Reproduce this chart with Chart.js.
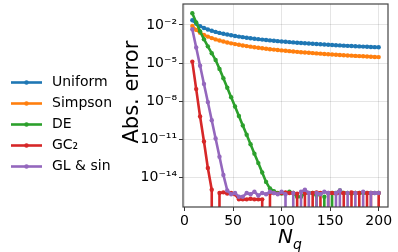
<!DOCTYPE html>
<html><head><meta charset="utf-8">
<script src="https://cdn.jsdelivr.net/npm/chart.js@4.4.1/dist/chart.umd.min.js"></script>
<style>html,body{margin:0;padding:0;background:#fff}#wrap{width:398px;height:252px}</style>
</head><body><div id="wrap"><canvas id="c" width="398" height="252"></canvas></div>
<script>
// Number of quadrature points
const Nq = [8,12,16,20,24,28,32,36,40,44,48,52,56,60,64,68,72,76,80,84,88,92,96,100,104,108,112,116,120,124,128,132,136,140,144,148,152,156,160,164,168,172,176,180,184,188,192,196,200];
// absolute errors (0 = exact, drawn as drop to -inf)
const uniform = [2.34e-2,1.26e-2,8.17e-3,5.82e-3,4.42e-3,3.49e-3,2.85e-3,2.38e-3,2.03e-3,1.76e-3,1.54e-3,1.36e-3,1.22e-3,1.10e-3,9.93e-4,9.06e-4,8.32e-4,7.66e-4,7.08e-4,6.58e-4,6.12e-4,5.73e-4,5.37e-4,5.05e-4,4.75e-4,4.49e-4,4.25e-4,4.03e-4,3.82e-4,3.64e-4,3.47e-4,3.30e-4,3.16e-4,3.03e-4,2.90e-4,2.78e-4,2.67e-4,2.56e-4,2.47e-4,2.38e-4,2.29e-4,2.21e-4,2.14e-4,2.07e-4,2.00e-4,1.93e-4,1.87e-4,1.81e-4,1.76e-4];
const simpson = [8.32e-3,4.09e-3,2.47e-3,1.67e-3,1.22e-3,9.29e-4,7.34e-4,5.98e-4,4.98e-4,4.21e-4,3.61e-4,3.14e-4,2.76e-4,2.45e-4,2.19e-4,1.97e-4,1.78e-4,1.62e-4,1.48e-4,1.36e-4,1.25e-4,1.16e-4,1.07e-4,1.00e-4,9.35e-5,8.75e-5,8.20e-5,7.73e-5,7.28e-5,6.87e-5,6.50e-5,6.15e-5,5.85e-5,5.56e-5,5.28e-5,5.04e-5,4.81e-5,4.59e-5,4.40e-5,4.21e-5,4.04e-5,3.87e-5,3.72e-5,3.58e-5,3.44e-5,3.32e-5,3.20e-5,3.08e-5,2.98e-5];
const de = [8.32e-2,1.58e-2,3.16e-3,7.59e-4,2.09e-4,6.03e-5,1.78e-5,3.55e-6,6.46e-7,1.17e-7,2.14e-8,3.89e-9,7.08e-10,1.29e-10,2.34e-11,4.27e-12,7.76e-13,1.41e-13,2.57e-14,4.68e-15,1.41e-15,8.91e-16,6.31e-16,5.62e-16,6.31e-16,7.94e-16,6.31e-16,3.16e-16,3.16e-16,6.31e-16,6.31e-16,6.31e-16,3.98e-16,0,3.16e-16,0,6.31e-16,6.31e-16,1.0e-15,6.31e-16,6.31e-16,5.62e-16,6.31e-16,6.31e-16,6.31e-16,6.31e-16,6.31e-16,6.31e-16,6.31e-16];
const gc2 = [1.32e-5,9.12e-8,6.46e-10,7.08e-12,5.75e-14,1.15e-15,0,6.31e-16,7.08e-16,5.62e-16,6.31e-16,5.01e-16,2.0e-16,2.0e-16,2.0e-16,2.24e-16,2.0e-16,2.0e-16,2.0e-16,0,6.31e-16,6.31e-16,5.62e-16,6.31e-16,7.08e-16,6.31e-16,6.31e-16,5.62e-16,0,6.31e-16,0,6.31e-16,7.08e-16,6.31e-16,0,6.31e-16,6.31e-16,5.62e-16,6.31e-16,6.31e-16,0,7.08e-16,6.31e-16,6.31e-16,0,6.31e-16,6.31e-16,0,6.31e-16];
const glsin = [4.57e-3,1.70e-4,6.31e-6,2.34e-7,8.71e-9,3.24e-10,1.20e-11,4.47e-13,1.66e-14,1.0e-15,5.01e-16,6.31e-16,3.16e-16,3.16e-16,6.31e-16,5.01e-16,7.94e-16,3.98e-16,6.31e-16,5.01e-16,7.94e-16,6.31e-16,5.01e-16,7.94e-16,5.01e-16,0,6.31e-16,0,7.94e-16,1.12e-15,6.31e-16,0,6.31e-16,5.01e-16,7.94e-16,6.31e-16,0,6.31e-16,1.0e-15,0,6.31e-16,0,6.31e-16,0,7.94e-16,0,6.31e-16,6.31e-16,6.31e-16];
const seriesNames = ['Uniform','Simpson','DE','GC\u2082','GL & sin'];
const seriesValues = [uniform, simpson, de, gc2, glsin];
const colors = ['#1f77b4','#ff7f0e','#2ca02c','#d62728','#9467bd'];
const yTickValues = [1e-14,1e-11,1e-8,1e-5,1e-2];
const yTickLabels = ['10\u207B\u00B9\u2074','10\u207B\u00B9\u00B9','10\u207B\u2078','10\u207B\u2075','10\u207B\u00B2'];
const xTickValues = [0,50,100,150,200];

const ZERO = 1e-300; // log(0) -> far below the axis
const datasets = seriesNames.map((name,k)=>({
  label: name,
  data: Nq.map((n,i)=>({x:n, y: seriesValues[k][i] > 0 ? seriesValues[k][i] : ZERO})),
  borderColor: colors[k], backgroundColor: colors[k],
  pointBackgroundColor: colors[k], pointBorderWidth: 0, pointRadius: 2.2,
  borderWidth: 2.6, tension: 0, order: 10 - k
}));

const frameAndLegend = {
  id: 'frameAndLegend',
  afterDraw(chart) {
    const ctx = chart.ctx, a = chart.chartArea;
    ctx.save();
    ctx.strokeStyle = '#444'; ctx.lineWidth = 1.2;
    ctx.strokeRect(a.left, a.top, a.right - a.left, a.bottom - a.top);
    const lg = chart.legend;
    lg.legendHitBoxes.forEach((hb, i) => {
      const item = lg.legendItems[i];
      const c = colors[item.datasetIndex];
      const cy = hb.top + hb.height / 2;
      ctx.strokeStyle = c; ctx.lineWidth = 2.6;
      ctx.beginPath(); ctx.moveTo(hb.left, cy); ctx.lineTo(hb.left + 31, cy); ctx.stroke();
      ctx.fillStyle = c; ctx.beginPath(); ctx.arc(hb.left + 15.5, cy, 2.2, 0, Math.PI*2); ctx.fill();
    });
    ctx.font = 'italic 20px "DejaVu Sans"';
    const wN = ctx.measureText('N').width;
    ctx.fillStyle = '#000'; ctx.textBaseline = 'alphabetic';
    ctx.font = 'italic 14px "DejaVu Sans"';
    ctx.fillText('q', (a.left + a.right) / 2 + wN / 2, 249);
    ctx.restore();
  }
};

new Chart(document.getElementById('c'), {
  type: 'line',
  data: { datasets },
  options: {
    responsive: false, animation: false, devicePixelRatio: 1,
    layout: { padding: { left: 4, right: 10, top: 3, bottom: 6 } },
    plugins: {
      tooltip: { enabled: false },
      legend: {
        position: 'left', align: 'center', maxWidth: 116,
        labels: {
          boxWidth: 34, boxHeight: 3, padding: 7, color: '#000',
          font: { family: 'DejaVu Sans', size: 14 },
          sort: (a, b) => a.datasetIndex - b.datasetIndex,
          generateLabels: (chart) => chart.data.datasets.map((d, i) => ({
            text: d.label, datasetIndex: i, fillStyle: 'rgba(0,0,0,0)', strokeStyle: 'rgba(0,0,0,0)', lineWidth: 0, hidden: false
          }))
        }
      }
    },
    scales: {
      x: {
        type: 'linear', min: -1.6, max: 209.6,
        afterBuildTicks: s => { s.ticks = xTickValues.map(v => ({ value: v })); },
        afterFit: s => { s.height = 39; s.paddingLeft = 0; s.paddingRight = 0; },
        grid: { color: 'rgba(0,0,0,0.1)', tickColor: '#333', tickLength: 4 },
        border: { display: false },
        ticks: { color: '#000', padding: 2, font: { family: 'DejaVu Sans', size: 14 }, maxRotation: 0, callback: v => String(v) },
        title: { display: true, text: 'N', color: '#000', font: { family: 'DejaVu Sans', size: 20, style: 'italic' }, padding: { top: 0, bottom: -4 } }
      },
      y: {
        type: 'logarithmic', min: Math.pow(10, -16.27), max: Math.pow(10, -0.353),
        afterBuildTicks: s => { s.ticks = yTickValues.map(v => ({ value: v })); },
        afterFit: s => { s.width = 63; s.paddingTop = 0; s.paddingBottom = 0; },
        grid: { color: 'rgba(0,0,0,0.1)', tickColor: '#333', tickLength: 4 },
        border: { display: false },
        ticks: { color: '#000', padding: 2, font: { family: 'DejaVu Sans', size: 14 },
          callback: (v) => { const i = yTickValues.findIndex(t => Math.abs(Math.log10(t) - Math.log10(v)) < 1e-6); return i >= 0 ? yTickLabels[i] : ''; } },
        title: { display: true, text: '    Abs. error', color: '#000', font: { family: 'DejaVu Sans', size: 21 }, padding: { top: 0, bottom: 2 } }
      }
    }
  },
  plugins: [frameAndLegend]
});
</script></body></html>
